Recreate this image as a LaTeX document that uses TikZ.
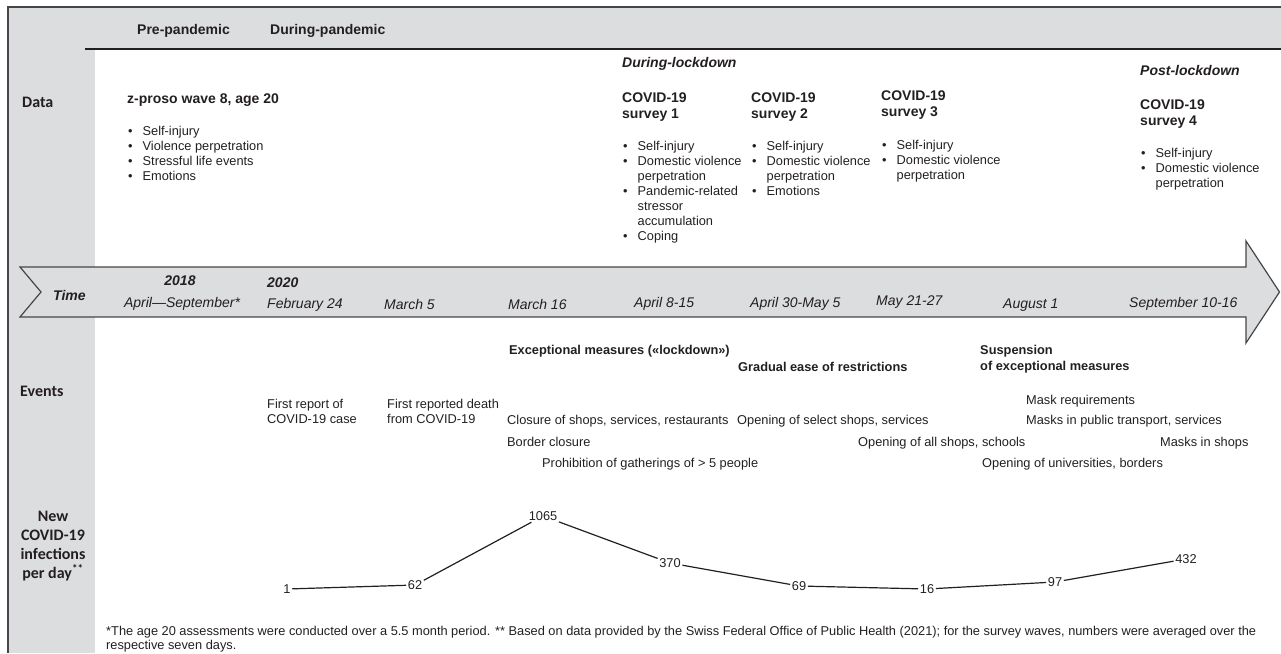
\documentclass[tikz,border=0pt]{standalone}
\usepackage{fontspec}
\setmainfont{Liberation Sans}
\newfontfamily\calfont{Carlito}
\definecolor{band}{RGB}{220,221,223}
\definecolor{ink}{RGB}{35,31,32}
\definecolor{rahmen}{RGB}{70,70,72}

\def\liste#1{\begin{tabular}[t]{@{\hspace{1pt}}l@{\hspace{10pt}}l@{}}#1\end{tabular}}
\def\zeilen#1{\begin{tabular}[t]{@{}l@{}}#1\end{tabular}}
\def\mitte#1{\begin{tabular}[t]{@{}c@{}}#1\end{tabular}}

\begin{document}
\begin{tikzpicture}[x=1pt,y=-1pt,
	txt/.style={inner sep=0pt,anchor=base west,text=ink,font=\fontsize{12.8}{15}\selectfont},
	kopf/.style={txt,font=\bfseries\fontsize{14}{16.5}\selectfont},
	fett/.style={txt,font=\bfseries\fontsize{12.8}{16}\selectfont},
	zeit/.style={txt,font=\itshape\fontsize{14}{16}\selectfont},
	jahr/.style={txt,font=\bfseries\itshape\fontsize{14}{16}\selectfont},
	rubrik/.style={txt,font=\calfont\bfseries\fontsize{16}{19}\selectfont},
	zahl/.style={inner sep=1.5pt,text=ink,font=\fontsize{12.8}{15}\selectfont},
	kurve/.style={draw=ink,line width=1.2pt}]
\useasboundingbox (0,0) rectangle (1281,653);

% frame
\fill[band] (8,7) rectangle (1281,49);
\fill[band] (8,7) rectangle (95,653);
\draw[rahmen,line width=1.4pt] (8,653) -- (8,7) -- (1281,7);
\draw[ink,line width=1.4pt] (85,49) -- (1281,49);

\node[kopf] (pre) at (137,34) {Pre-pandemic};
\node[kopf] (during) at (270,34) {During-pandemic};

% data
\node[rubrik] (data) at (22,107.5) {Data};
\node[kopf] (zproso) at (127,103) {z-proso wave 8, age 20};
\node[txt] (zlist) at (127,135.5) {\liste{\textbullet & Self-injury\\
	\textbullet & Violence perpetration\\
	\textbullet & Stressful life events\\
	\textbullet & Emotions}};
%
\node[kopf,font=\bfseries\itshape\fontsize{14}{16.5}\selectfont] (lock) at (622,67) {During-lockdown};
\node[kopf] (s1) at (622,102) {\zeilen{COVID-19\\survey 1}};
\node[txt] (s1list) at (622,150.5) {\liste{\textbullet & Self-injury\\
	\textbullet & Domestic violence\\
	& perpetration\\
	\textbullet & Pandemic-related\\
	& stressor\\
	& accumulation\\
	\textbullet & Coping}};
%
\node[kopf] (s2) at (751,102) {\zeilen{COVID-19\\survey 2}};
\node[txt] (s2list) at (751,150.5) {\liste{\textbullet & Self-injury\\
	\textbullet & Domestic violence\\
	& perpetration\\
	\textbullet & Emotions}};
%
\node[kopf] (s3) at (881,100) {\zeilen{COVID-19\\survey 3}};
\node[txt] (s3list) at (881,149.5) {\liste{\textbullet & Self-injury\\
	\textbullet & Domestic violence\\
	& perpetration}};
%
\node[kopf,font=\bfseries\itshape\fontsize{14}{16.5}\selectfont] (post) at (1140,75) {Post-lockdown};
\node[kopf] (s4) at (1140,109) {\zeilen{COVID-19\\survey 4}};
\node[txt] (s4list) at (1140,157.5) {\liste{\textbullet & Self-injury\\
	\textbullet & Domestic violence\\
	& perpetration}};

% time arrow
\draw[rahmen,fill=band,line width=1.2pt] (20,267) -- (1246,267) -- (1246,241) -- (1279.5,292)
	-- (1246,343) -- (1246,317) -- (20,317) -- (41,292) -- cycle;
\node[jahr] (time) at (53,300) {Time};
\node[jahr,anchor=base] (y2018) at (180,285) {2018};
\node[jahr] (y2020) at (267,287) {2020};
\node[zeit,anchor=base] (t0) at (182,307) {April—September*};
\node[zeit] (t1) at (267,308) {February 24};
\node[zeit] (t2) at (384,309) {March 5};
\node[zeit] (t3) at (508,309) {March 16};
\node[zeit] (t4) at (634,307) {April 8-15};
\node[zeit] (t5) at (750,307) {April 30-May 5};
\node[zeit] (t6) at (876,305) {May 21-27};
\node[zeit] (t7) at (1003,308) {August 1};
\node[zeit] (t8) at (1129,307) {September 10-16};

% events
\node[rubrik] (events) at (20,396.5) {Events};
\node[fett] (lockdown) at (509,354.5) {Exceptional measures («lockdown»)};
\node[fett] (ease) at (738,371.5) {Gradual ease of restrictions};
\node[fett] (susp) at (980,354.5) {\zeilen{Suspension\\of exceptional measures}};
\node[txt] (e1) at (267,408.5) {\zeilen{First report of\\COVID-19 case}};
\node[txt] (e2) at (387,408.5) {\zeilen{First reported death\\from COVID-19}};
\node[txt] (e3) at (507,424.5) {Closure of shops, services, restaurants};
\node[txt] (e4) at (507,446.5) {Border closure};
\node[txt] (e5) at (542,467.5) {Prohibition of gatherings of > 5 people};
\node[txt] (e6) at (737,424.5) {Opening of select shops, services};
\node[txt] (e7) at (1026,404.5) {Mask requirements};
\node[txt] (e8) at (1026,424.5) {Masks in public transport, services};
\node[txt] (e9) at (858,446.5) {Opening of all shops, schools};
\node[txt] (e10) at (1160,446.5) {Masks in shops};
\node[txt] (e11) at (982,467.5) {Opening of universities, borders};

% infections
\node[rubrik,anchor=base] (neu) at (53,521) {\mitte{New\\COVID-19\\infections\\per day\textsuperscript{**}}};
\node[zahl] (n1) at (287,589) {1};
\node[zahl] (n62) at (415,585) {62};
\node[zahl] (n1065) at (543,516) {1065};
\node[zahl] (n370) at (670,563) {370};
\node[zahl] (n69) at (799,586) {69};
\node[zahl] (n16) at (927,589) {16};
\node[zahl] (n97) at (1055,582) {97};
\node[zahl] (n432) at (1186,559) {432};
\draw[kurve] (n1) -- (n62) -- (n1065) -- (n370) -- (n69) -- (n16) -- (n97) -- (n432);

\node[txt,font=\fontsize{12.8}{14}\selectfont] (fuss) at (106,635) {\zeilen{*The age 20 assessments were conducted over a 5.5 month period. ** Based on data provided by the Swiss Federal Office of Public Health (2021); for the survey waves, numbers were averaged over the\\respective seven days.}};
\end{tikzpicture}
\end{document}
